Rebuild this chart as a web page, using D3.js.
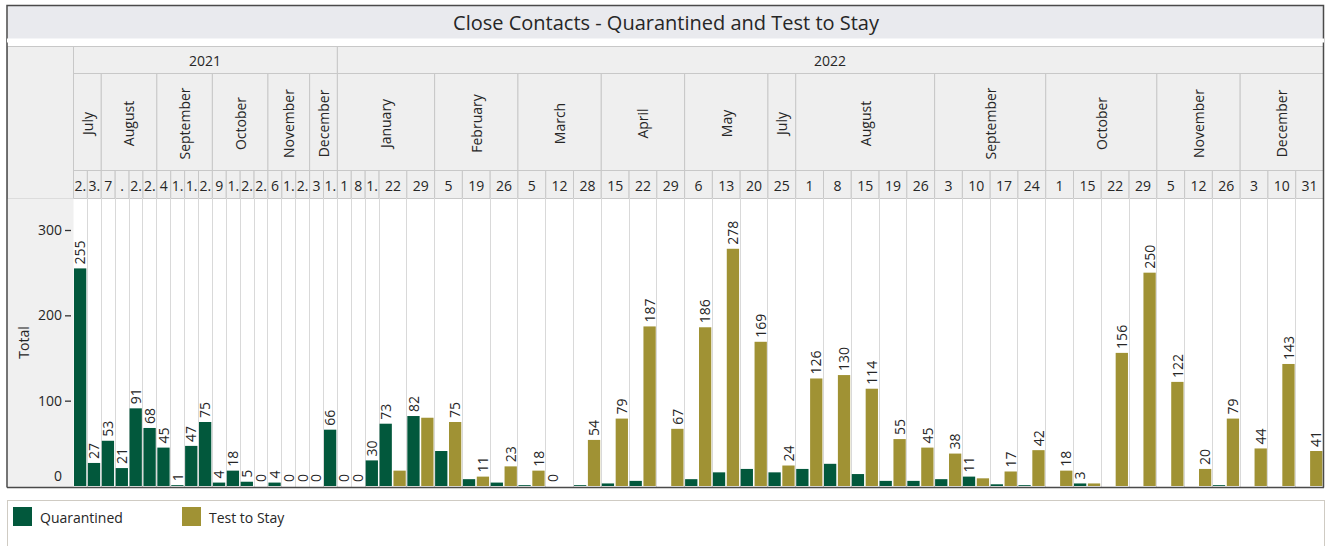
<!DOCTYPE html>
<html>
<head>
<meta charset="utf-8">
<script src="https://cdn.jsdelivr.net/npm/d3@7"></script>
<style>
    body { margin: 0; background: #fff; }
    text { font-family: "Segoe UI", "Open Sans", sans-serif; fill: #262626; }
</style>
</head>
<body>
<div class="chart"></div>
<script>
// Close Contacts chart

var yearLabels = ['2021', '2022']
var yearMonthCounts = [6, 11]

var monthLabels = ['July', 'August', 'September', 'October', 'November', 'December',
    'January', 'February', 'March', 'April', 'May', 'July', 'August', 'September', 'October', 'November', 'December']
var monthDayCounts = [2, 4, 4, 4, 3, 2, 5, 3, 3, 3, 3, 1, 5, 4, 4, 3, 3]

var dayLabels = ['2.', '3.', '7', '.', '2.', '2.', '4', '1.', '1.', '2.', '9', '1.', '2.', '2.', '6', '1.', '2.', '3', '1.',
    '1', '8', '1.', '22', '29', '5', '19', '26', '5', '12', '28', '15', '22', '29', '6', '13', '20', '25',
    '1', '8', '15', '19', '26', '3', '10', '17', '24', '1', '15', '22', '29', '5', '12', '26', '3', '10', '31']

var quarantined = [255, 27, 53, 21, 91, 68, 45, 1, 47, 75, 4, 18, 5, 0, 4, 0, 0, 0, 66,
    0, 0, 30, 73, 82, 41, 8, 4, 1, 0, 1, 3, 6, 0, 8, 16, 20, 16,
    20, 26, 14, 6, 6, 8, 11, 2, 1, 0, 3, 0, 0, 0, 0, 1, 0, 0, 0]

var testToStay = [null, null, null, null, null, null, null, null, null, null, null, null, null, null, null, null, null, null, null,
    null, null, null, 18, 80, 75, 11, 23, 18, 0, 54, 79, 187, 67, 186, 278, 169, 24,
    126, 130, 114, 55, 45, 38, 9, 17, 42, 18, 3, 156, 250, 122, 20, 79, 44, 143, 41]

var seriesNames = ['Quarantined', 'Test to Stay']
var seriesColors = ['#02583c', '#a09234']
var yTicks = [0, 100, 200, 300]

var svgWidth = 1325
var svgHeight = 546

var plotLeft = 73, plotRight = 1323
var headTop = 46, monthTop = 73, dayTop = 170, plotTop = 198, plotBottom = 487

var svg = d3.select('.chart')
    .append('svg')
    .attr('width', svgWidth)
    .attr('height', svgHeight)

// one slot per bar, a date gets one or two slots
var slots = []
var dateSlots = []
dayLabels.forEach((d, i) => {
    var first = slots.length
    slots.push({ date: i, series: 0, value: quarantined[i] })
    if (testToStay[i] !== null) slots.push({ date: i, series: 1, value: testToStay[i] })
    dateSlots.push([first, slots.length - 1])
})

var x = d3.scaleBand()
    .domain(d3.range(slots.length))
    .range([plotLeft, plotRight])
var bw = x.bandwidth()

var y = d3.scaleLinear()
    .domain([0, 337.5])
    .range([486, plotTop])

var dateX0 = dateSlots.map(s => x(s[0]))
var dateX1 = dateSlots.map(s => x(s[1]) + bw)

// title bar
svg.append('rect')
    .attr('x', 7.5).attr('y', 5.5)
    .attr('width', 1316).attr('height', 34.5)
    .attr('fill', '#e9eaee')
svg.append('text')
    .attr('x', 666).attr('y', 22)
    .attr('text-anchor', 'middle')
    .attr('dominant-baseline', 'central')
    .attr('font-size', '20px')
    .attr('fill', '#1a1a1a')
    .text('Close Contacts - Quarantined and Test to Stay')

// header cells
var header = svg.append('g')
function cell(x0, y0, x1, y1) {
    header.append('rect')
        .attr('x', x0 + 0.5).attr('y', y0 + 0.5)
        .attr('width', x1 - x0).attr('height', y1 - y0)
        .attr('fill', '#efefef')
        .attr('stroke', '#c8c8c8')
}
cell(7, headTop, plotLeft, plotTop)

var mStart = 0, dStart = 0
yearLabels.forEach((yl, yi) => {
    var monthsInYear = yearMonthCounts[yi]
    var dFirst = dStart
    for (var m = mStart; m < mStart + monthsInYear; m++) {
        var mFirst = dStart
        var mLast = dStart + monthDayCounts[m] - 1
        cell(dateX0[mFirst], monthTop, dateX1[mLast], dayTop)
        header.append('text')
            .attr('transform', `translate(${(dateX0[mFirst] + dateX1[mLast]) / 2 + 1}, ${(monthTop + dayTop) / 2 + 2}) rotate(-90)`)
            .attr('text-anchor', 'middle')
            .attr('dy', '0.35em')
            .attr('font-size', '14px')
            .text(monthLabels[m])
        dStart = mLast + 1
    }
    cell(dateX0[dFirst], headTop, dateX1[dStart - 1], monthTop)
    header.append('text')
        .attr('x', (dateX0[dFirst] + dateX1[dStart - 1]) / 2)
        .attr('y', (headTop + monthTop) / 2 + 1)
        .attr('text-anchor', 'middle')
        .attr('dominant-baseline', 'central')
        .attr('font-size', '14px')
        .text(yl)
    mStart += monthsInYear
})

dayLabels.forEach((d, i) => {
    cell(dateX0[i], dayTop, dateX1[i], plotTop)
    header.append('text')
        .attr('x', (dateX0[i] + dateX1[i]) / 2 + 0.5)
        .attr('y', (dayTop + plotTop) / 2 + 1)
        .attr('text-anchor', 'middle')
        .attr('dominant-baseline', 'central')
        .attr('font-size', '14px')
        .text(d)
})

// axis panel and plot background
svg.append('rect')
    .attr('x', 7.5).attr('y', plotTop + 0.5)
    .attr('width', plotLeft - 7).attr('height', plotBottom - plotTop)
    .attr('fill', '#f0f0f0')

svg.selectAll('.grid')
    .data(dateX1)
    .enter().append('line')
    .attr('class', 'grid')
    .attr('x1', d => Math.round(d) + 0.5).attr('x2', d => Math.round(d) + 0.5)
    .attr('y1', plotTop).attr('y2', plotBottom)
    .attr('stroke', '#d9d9d9')

// bars
svg.selectAll('.bar')
    .data(slots)
    .enter().append('rect')
    .attr('class', 'bar')
    .attr('x', (d, k) => x(k) + 1)
    .attr('width', bw - 1.6)
    .attr('y', d => y(d.value))
    .attr('height', d => 486 - y(d.value))
    .attr('fill', d => seriesColors[d.series])

// labels: the larger bar of each date carries the number
var labelled = dateSlots.map(s => {
    var best = s[0]
    for (var k = s[0] + 1; k <= s[1]; k++) if (slots[k].value > slots[best].value) best = k
    return best
})
svg.selectAll('.label')
    .data(labelled)
    .enter().append('text')
    .attr('class', 'label')
    .attr('transform', k => `translate(${x(k) + bw / 2 + 0.5}, ${y(slots[k].value) - 4}) rotate(-90)`)
    .attr('dy', '0.35em')
    .attr('font-size', '14px')
    .attr('fill', '#1f1f1f')
    .text(k => slots[k].value)

// y axis
var yAxis = svg.append('g')
    .attr('transform', 'translate(71, 0)')
    .call(d3.axisLeft(y).tickValues(yTicks).tickSize(6).tickPadding(3))
yAxis.select('.domain').remove()
yAxis.selectAll('.tick line').attr('stroke', '#333').attr('stroke-width', 1.3)
yAxis.selectAll('.tick text')
    .attr('font-size', '14px')
    .attr('font-family', '"Segoe UI", "Open Sans", sans-serif')
    .attr('fill', '#262626')
yAxis.selectAll('.tick').filter(d => d === 0).select('line').remove()
yAxis.selectAll('.tick').filter(d => d === 0).select('text').attr('y', -10)

svg.append('text')
    .attr('transform', `translate(24, ${(plotTop + plotBottom) / 2}) rotate(-90)`)
    .attr('text-anchor', 'middle')
    .attr('dy', '0.35em')
    .attr('font-size', '14px')
    .text('Total')

// frame
svg.append('path')
    .attr('d', `M7,${plotBottom + 0.5} V5.5 H1323.5 V${plotBottom + 0.5}`)
    .attr('fill', 'none')
    .attr('stroke', '#4a4a4a')
    .attr('stroke-width', 1.5)
svg.append('line')
    .attr('x1', 7).attr('x2', 1324)
    .attr('y1', plotBottom + 0.5).attr('y2', plotBottom + 0.5)
    .attr('stroke', '#4a4a4a')
    .attr('stroke-width', 1.5)
svg.append('line')
    .attr('x1', 7).attr('x2', 1324)
    .attr('y1', 40.5).attr('y2', 40.5)
    .attr('stroke', '#ffffff')
    .attr('stroke-width', 4)

// legend
var legend = svg.append('g')
legend.append('rect')
    .attr('x', 7.5).attr('y', 500.5)
    .attr('width', 1317).attr('height', 60)
    .attr('fill', '#fff')
    .attr('stroke', '#cfcbc3')
var legendX = [13, 182]
seriesNames.forEach((name, i) => {
    legend.append('rect')
        .attr('x', legendX[i]).attr('y', 507)
        .attr('width', 19).attr('height', 19)
        .attr('fill', seriesColors[i])
    legend.append('text')
        .attr('x', legendX[i] + 27).attr('y', 517)
        .attr('dominant-baseline', 'central')
        .attr('font-size', '14px')
        .text(name)
})
</script>
</body>
</html>
